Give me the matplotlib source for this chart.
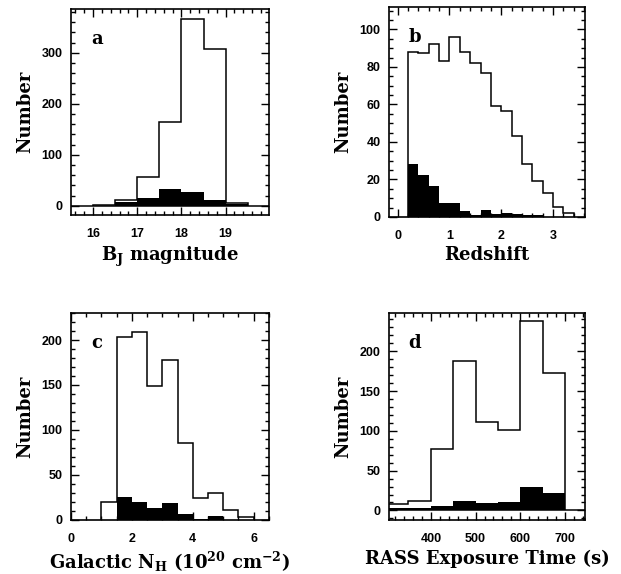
import numpy as np
import matplotlib
matplotlib.use("Agg")
import matplotlib.pyplot as plt
from matplotlib.ticker import MultipleLocator

plt.rcParams["font.family"] = ["Liberation Sans", "DejaVu Sans"]
plt.rcParams["font.weight"] = "bold"
plt.rcParams["mathtext.fontset"] = "custom"
plt.rcParams["mathtext.rm"] = "DejaVu Serif:bold"
plt.rcParams["mathtext.it"] = "DejaVu Serif:bold"
plt.rcParams["mathtext.bf"] = "DejaVu Serif:bold"
plt.rcParams["mathtext.default"] = "rm"

# panel a: B_J magnitude, bins of 0.5 mag
bj_edges = [16.0, 16.5, 17.0, 17.5, 18.0, 18.5, 19.0, 19.5]
bj_all = [2, 11.5, 57, 165, 367, 308, 5]
bj_sub = [0, 7, 15, 33, 27, 12, 3]

# panel b: redshift, bins of 0.2
z_edges = [0.2, 0.4, 0.6, 0.8, 1.0, 1.2, 1.4, 1.6, 1.8, 2.0, 2.2, 2.4, 2.6, 2.8, 3.0, 3.2, 3.4]
z_all = [88, 87.5, 92.5, 83.3, 96, 88, 82, 77, 59, 56.6, 43, 28, 19, 13, 5.5, 2]
z_sub = [28.3, 22.3, 16.4, 7.3, 7.3, 3.2, 1.2, 3.6, 1.6, 2.3, 1.6, 1.2, 0.8, 0, 0, 0]

# panel c: Galactic N_H, bins of 0.5
nh_edges = [1.0, 1.5, 2.0, 2.5, 3.0, 3.5, 4.0, 4.5, 5.0, 5.5, 6.0]
nh_all = [20, 203, 209, 149, 178, 85, 24, 30, 11.5, 3.7]
nh_sub = [0.5, 25, 19.5, 13.5, 18.5, 7, 0.8, 4, 0, 0]

# panel d: RASS exposure time, bins of 50 s
t_edges = [300, 350, 400, 450, 500, 550, 600, 650, 700]
t_all = [8.5, 11.3, 77, 188, 110.5, 100.5, 237.6, 172.5]
t_sub = [2.5, 2.5, 5.8, 11.7, 9.2, 10.4, 29.7, 21.4]

serif = {"family": "DejaVu Serif", "weight": "bold"}

fig = plt.figure(figsize=(6.21, 5.74), dpi=100)


def panel(rect, edges, total, sub, letter, xlabel, xlim, ylim,
          xmaj, xmin, ymaj, ymin, zero_line=False):
    ax = fig.add_axes(rect)
    ax.stairs(sub, edges, fill=True, color="black", lw=0)
    ax.stairs(total, edges, color="black", lw=1.1, baseline=0)
    if zero_line:
        ax.axhline(0, color="black", lw=1.1)
    ax.set_xlim(*xlim)
    ax.set_ylim(*ylim)
    ax.xaxis.set_major_locator(MultipleLocator(xmaj))
    ax.xaxis.set_minor_locator(MultipleLocator(xmin))
    ax.yaxis.set_major_locator(MultipleLocator(ymaj))
    ax.yaxis.set_minor_locator(MultipleLocator(ymin))
    ax.tick_params(which="both", direction="in", top=True, right=True,
                   width=1.0, labelsize=9)
    ax.tick_params(which="major", length=5.5, pad=6)
    ax.tick_params(axis="x", which="major", pad=9.5)
    ax.tick_params(which="minor", length=2.8)
    for s in ax.spines.values():
        s.set_linewidth(1.2)
    ax.set_xlabel(xlabel, fontdict=serif, fontsize=13, labelpad=3)
    ax.set_ylabel("Number", fontdict=serif, fontsize=13, labelpad=5.5)
    ax.text(0.1, 0.832, letter, transform=ax.transAxes, fontdict=serif,
            fontsize=13, ha="left", va="baseline")
    return ax


panel([0.1143, 0.6254, 0.3188, 0.3589], bj_edges, bj_all, bj_sub, "a",
      "B$_{\\mathregular{J}}$ magnitude", (15.5, 19.98), (-18, 386),
      1, 0.2, 100, 20, zero_line=True)
panel([0.6264, 0.622, 0.3156, 0.3659], z_edges, z_all, z_sub, "b",
      "Redshift", (-0.17, 3.62), (0, 112), 1, 0.2, 20, 5)
panel([0.1143, 0.0941, 0.3188, 0.3606], nh_edges, nh_all, nh_sub, "c",
      "Galactic N$_{\\mathregular{H}}$ (10$^{20}$ cm$^{-2}$)", (0, 6.5), (0, 230),
      2, 0.5, 50, 10)
panel([0.6264, 0.0941, 0.3156, 0.3606], t_edges, t_all, t_sub, "d",
      "RASS Exposure Time (s)", (306.5, 744.5), (-12, 248),
      100, 20, 50, 10, zero_line=True)

fig.savefig("out.png", dpi=100)
